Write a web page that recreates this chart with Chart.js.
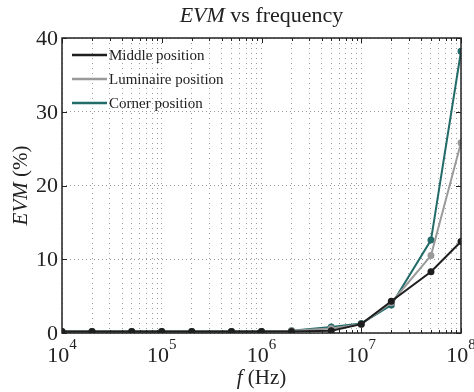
<!DOCTYPE html>
<html>
<head>
<meta charset="utf-8">
<script src="https://cdn.jsdelivr.net/npm/chart.js@4.4.1/dist/chart.umd.min.js"></script>
<style>
  html, body { margin: 0; padding: 0; background: #fff; }
  #wrap { width: 474px; height: 392px; }
</style>
</head>
<body>
<div id="wrap"><canvas id="evm"></canvas></div>
<script>
// frequencies (Hz) and EVM (%) per receiver position
const freqs     = [1e4, 2e4, 5e4, 1e5, 2e5, 5e5, 1e6, 2e6, 5e6, 1e7, 2e7, 5e7, 1e8];
const middle    = [0.2, 0.2, 0.2, 0.2, 0.2, 0.2, 0.2, 0.2, 0.3, 1.2, 4.3, 8.3, 12.4];
const luminaire = [0.2, 0.2, 0.2, 0.2, 0.2, 0.2, 0.2, 0.3, 0.6, 1.2, 4.1, 10.5, 25.8];
const corner    = [0.2, 0.2, 0.2, 0.2, 0.2, 0.2, 0.2, 0.3, 0.8, 1.3, 3.8, 12.6, 38.2];
const seriesNames = ['Middle position', 'Luminaire position', 'Corner position'];
const xTickExps = [4, 5, 6, 7, 8];
const yTicks    = [0, 10, 20, 30, 40];

const colors = {
    middle    : '#1e1e1e',
    luminaire : '#9a9a9a',
    corner    : '#226b68'
};
const serif = '"Liberation Serif", "DejaVu Serif", serif';

// minor + major log grid positions
const xGrid = [];
for (let e = 4; e < 8; e++) {
    for (let m = 1; m < 10; m++) xGrid.push(m * Math.pow(10, e));
}
xGrid.push(1e8);

function series(label, values, color) {
    return {
        label: label,
        data: freqs.map((f, i) => ({ x: f, y: values[i] })),
        borderColor: color,
        backgroundColor: color,
        borderWidth: 2,
        pointRadius: 2.5,
        pointHoverRadius: 2.5,
        tension: 0
    };
}

// titles, tick labels, ticks, box and legend
const decorations = {
    id: 'decorations',
    afterDraw(chart) {
        const ctx = chart.ctx;
        const area = chart.chartArea;
        const xs = chart.scales.x;
        const ys = chart.scales.y;
        ctx.save();
        ctx.fillStyle = '#222';

        // box
        ctx.strokeStyle = '#222';
        ctx.lineWidth = 1.5;
        ctx.strokeRect(area.left, area.top, area.right - area.left, area.bottom - area.top);

        // inward ticks
        ctx.lineWidth = 1;
        xGrid.forEach(v => {
            const px = Math.round(xs.getPixelForValue(v)) + 0.5;
            const major = Math.log10(v) % 1 === 0;
            const len = major ? 5 : 3;
            ctx.beginPath();
            ctx.moveTo(px, area.bottom); ctx.lineTo(px, area.bottom - len);
            ctx.moveTo(px, area.top); ctx.lineTo(px, area.top + len);
            ctx.stroke();
        });
        yTicks.forEach(v => {
            const py = Math.round(ys.getPixelForValue(v)) + 0.5;
            ctx.beginPath();
            ctx.moveTo(area.left, py); ctx.lineTo(area.left + 5, py);
            ctx.moveTo(area.right, py); ctx.lineTo(area.right - 5, py);
            ctx.stroke();
        });

        // y tick labels
        ctx.font = '22px ' + serif;
        ctx.textAlign = 'right';
        ctx.textBaseline = 'middle';
        yTicks.forEach(v => {
            ctx.fillText(String(v), area.left - 4, ys.getPixelForValue(v) + 1);
        });

        // x tick labels as powers of ten
        ctx.textBaseline = 'alphabetic';
        xTickExps.forEach(e => {
            const px = xs.getPixelForValue(Math.pow(10, e));
            ctx.font = '22px ' + serif;
            const wBase = ctx.measureText('10').width;
            ctx.font = '15px ' + serif;
            const wExp = ctx.measureText(String(e)).width;
            const x0 = px - (wBase + wExp) / 2;
            ctx.textAlign = 'left';
            ctx.font = '22px ' + serif;
            ctx.fillText('10', x0, area.bottom + 29);
            ctx.font = '15px ' + serif;
            ctx.fillText(String(e), x0 + wBase, area.bottom + 16);
        });

        // mixed italic text helper
        function richText(parts, cx, cy) {
            let total = 0;
            parts.forEach(p => { ctx.font = p.font; total += ctx.measureText(p.text).width; });
            let x = cx - total / 2;
            ctx.textAlign = 'left';
            parts.forEach(p => {
                ctx.font = p.font;
                ctx.fillText(p.text, x, cy);
                x += ctx.measureText(p.text).width;
            });
        }

        const midX = (area.left + area.right) / 2;
        ctx.textBaseline = 'middle';
        richText([
            { text: 'EVM', font: 'italic 22px ' + serif },
            { text: ' vs frequency', font: '22px ' + serif }
        ], midX, 16);

        richText([
            { text: 'f', font: 'italic 21px ' + serif },
            { text: ' (Hz)', font: '21px ' + serif }
        ], midX, 378);

        ctx.save();
        ctx.translate(21, (area.top + area.bottom) / 2);
        ctx.rotate(-Math.PI / 2);
        richText([
            { text: 'EVM', font: 'italic 21px ' + serif },
            { text: ' (%)', font: '21px ' + serif }
        ], 0, 0);
        ctx.restore();

        // legend
        ctx.font = '15px ' + serif;
        ctx.textBaseline = 'middle';
        ctx.textAlign = 'left';
        chart.data.datasets.forEach((ds, i) => {
            const y = area.top + 17 + i * 24;
            ctx.strokeStyle = ds.borderColor;
            ctx.lineWidth = 2.5;
            ctx.beginPath();
            ctx.moveTo(area.left + 10, y);
            ctx.lineTo(area.left + 45, y);
            ctx.stroke();
            ctx.fillStyle = '#222';
            ctx.fillText(ds.label, area.left + 47, y + 1);
        });
        ctx.restore();
    }
};

new Chart(document.getElementById('evm'), {
    type: 'line',
    data: {
        datasets: [
            series(seriesNames[0], middle, colors.middle),
            series(seriesNames[1], luminaire, colors.luminaire),
            series(seriesNames[2], corner, colors.corner)
        ]
    },
    options: {
        responsive: true,
        maintainAspectRatio: false,
        animation: false,
        layout: { padding: { left: 62, right: 13, top: 38, bottom: 59 } },
        plugins: {
            legend: { display: false },
            title: { display: false },
            tooltip: { enabled: false }
        },
        scales: {
            x: {
                type: 'logarithmic',
                min: 1e4,
                max: 1e8,
                afterBuildTicks: axis => { axis.ticks = xGrid.map(v => ({ value: v })); },
                ticks: { display: false },
                grid: { color: '#9a9a9a', lineWidth: 1, drawTicks: false },
                border: { display: false, dash: [1, 4] }
            },
            y: {
                min: 0,
                max: 40,
                afterBuildTicks: axis => { axis.ticks = yTicks.map(v => ({ value: v })); },
                ticks: { display: false },
                grid: { color: '#9a9a9a', lineWidth: 1, drawTicks: false },
                border: { display: false, dash: [1, 3] }
            }
        }
    },
    plugins: [decorations]
});
</script>
</body>
</html>
